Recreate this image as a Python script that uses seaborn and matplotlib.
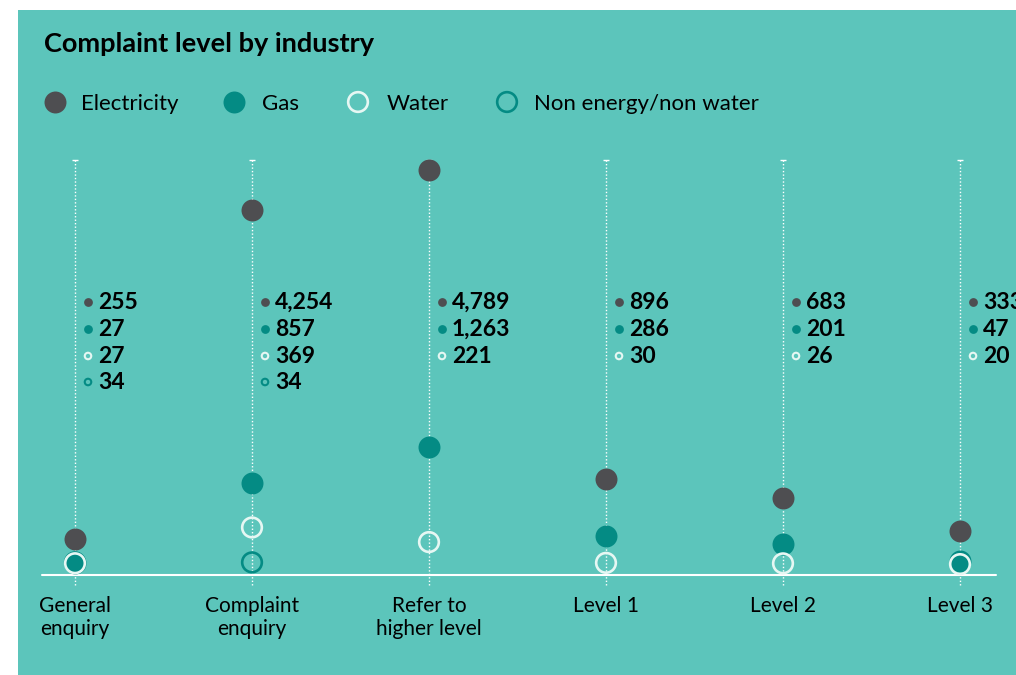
import numpy as np
import pandas as pd
import matplotlib
matplotlib.use('Agg')
import matplotlib.pyplot as plt
import matplotlib.transforms as mtransforms
from matplotlib.patches import Rectangle
import seaborn as sns

# Data
categories = ['General\nenquiry', 'Complaint\nenquiry', 'Refer to\nhigher level',
              'Level 1', 'Level 2', 'Level 3']
industries = ['Electricity', 'Gas', 'Water', 'Non energy/non water']
electricity = [255, 4254, 4789, 896, 683, 333]
gas = [27, 857, 1263, 286, 201, 47]
water = [27, 369, 221, 30, 26, 20]
non_energy = [34, 34, None, None, None, None]

# Colours
BG = '#5cc5bb'
DARK = '#4e4e51'
TEAL = '#048b84'
RING = '#e6f7f3'
styles = {
    'Electricity': dict(face=DARK, edge=DARK, lw=0, filled=True),
    'Gas': dict(face=TEAL, edge=TEAL, lw=0, filled=True),
    'Water': dict(face='none', edge=RING, lw=1.9, filled=False),
    'Non energy/non water': dict(face='none', edge=TEAL, lw=1.9, filled=False),
}
draw_order = ['Electricity', 'Non energy/non water', 'Gas', 'Water']

rows = []
for name, vals in zip(industries, [electricity, gas, water, non_energy]):
    for i, v in enumerate(vals):
        if v is not None:
            rows.append({'industry': name, 'pos': i, 'value': v})
df = pd.DataFrame(rows)

sns.set_theme(style='white')
plt.rcParams['font.family'] = ['Lato', 'DejaVu Sans']

W, H = 1016, 675
fig = plt.figure(figsize=(W / 100, H / 100), dpi=100, facecolor='white')
ax = fig.add_axes([0, 0, 1, 1])
ax.set_facecolor('none')
ax.add_patch(Rectangle((18 / W, 0), 1, (H - 10) / H, transform=ax.transAxes,
                       facecolor=BG, edgecolor='none', zorder=0, clip_on=False))

# power scale, roughly how the original spaces the dots
P = 0.9
def fwd(v):
    v = np.asarray(v, dtype=float)
    return np.sign(v) * np.abs(v) ** P
def inv(v):
    v = np.asarray(v, dtype=float)
    return np.sign(v) * np.abs(v) ** (1 / P)
ax.set_yscale('function', functions=(fwd, inv))
K = 0.1935  # pixels per scaled unit
ZERO = 567  # pixel (from top) of value 0; dots sit just above the white base line
ax.set_ylim(float(inv(-(H - ZERO) / K)), float(inv(ZERO / K)))
X0, DX = 75, 177
ax.set_xlim(-X0 / DX, (W - X0) / DX)

def py(p):  # pixel-from-top -> axes fraction
    return 1 - p / H

blend = mtransforms.blended_transform_factory(ax.transData, ax.transAxes)

# dotted guide lines
for i in range(len(categories)):
    ax.plot([i, i], [py(160), py(586)], transform=blend, color='white', lw=1,
            ls=(0, (1, 1.5)), zorder=1)
    ax.plot([i], [py(160)], transform=blend, marker='_', color='white', ms=5, mew=1, zorder=1)
ax.plot([42 / W, 996 / W], [py(575), py(575)], transform=ax.transAxes, color='white',
        lw=1.5, zorder=1)

# points
for z, name in enumerate(draw_order):
    st = styles[name]
    sub = df[df['industry'] == name]
    size = 250 if st['filled'] else 200
    sns.scatterplot(data=sub, x='pos', y='value', ax=ax, s=size, marker='o',
                    facecolor=st['face'], edgecolor=st['edge'], linewidth=st['lw'],
                    legend=False, zorder=3 + z)

# value labels
row_base = [309, 336, 363, 389]
for i in range(len(categories)):
    r = 0
    for name, vals in zip(industries, [electricity, gas, water, non_energy]):
        v = vals[i]
        if v is None:
            continue
        st = styles[name]
        ax.scatter([i + 13 / DX], [py(row_base[r] - 7)], transform=blend,
                   s=40 if st['filled'] else 22, facecolor=st['face'], edgecolor=st['edge'],
                   linewidth=0 if st['filled'] else 1.5, clip_on=False, zorder=5)
        ax.text(i + 23 / DX, py(row_base[r]), f'{v:,}', transform=blend, ha='left',
                va='baseline', fontsize=16.5, fontweight='bold', color='black')
        r += 1

# category labels
for i, cat in enumerate(categories):
    for j, line in enumerate(cat.split('\n')):
        ax.text(i, py(612 + 23 * j), line, transform=blend, ha='center', va='baseline',
                fontsize=15, color='black')

# title
ax.text(44 / W, py(52), 'Complaint level by industry', transform=ax.transAxes,
        ha='left', va='baseline', fontsize=19.5, fontweight='bold', color='black')

# legend
leg_marker_x = [55, 234, 358, 507]
leg_text_x = [81, 262, 387, 534]
for name, mx, tx in zip(industries, leg_marker_x, leg_text_x):
    st = styles[name]
    ax.scatter([mx / W], [py(102)], transform=ax.transAxes, s=250 if st['filled'] else 200,
               facecolor=st['face'], edgecolor=st['edge'], linewidth=st['lw'], clip_on=False)
    ax.text(tx / W, py(110), name, transform=ax.transAxes, ha='left', va='baseline',
            fontsize=16, color='black')

ax.set_xticks([])
ax.set_yticks([])
ax.set_xlabel('')
ax.set_ylabel('')
for s in ax.spines.values():
    s.set_visible(False)

fig.savefig('out.png', dpi=100, facecolor='white')
